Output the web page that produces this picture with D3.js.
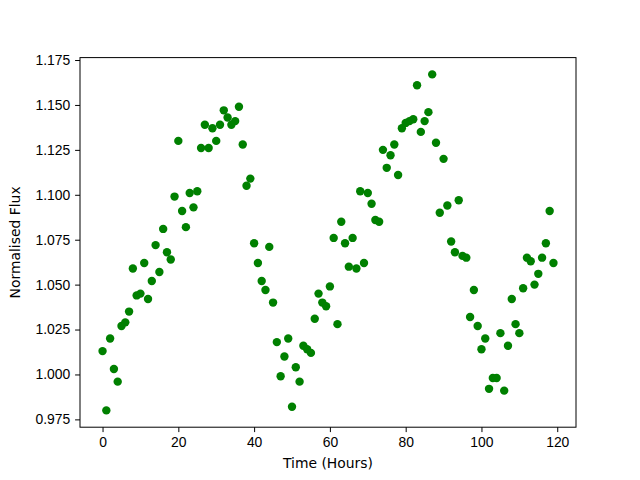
<!DOCTYPE html>
<html>
<head>
<meta charset="utf-8">
<script src="https://cdn.jsdelivr.net/npm/d3@7"></script>
<style>
  body { margin: 0; background: #fff; }
  svg { font-family: "DejaVu Sans", sans-serif; }
</style>
</head>
<body>
<div id="chart"></div>
<script>
// hours 0..119, one reading per hour
const hours = d3.range(0, 120);
const flux = [
  1.013, 0.980, 1.020, 1.003, 0.996, 1.027, 1.029, 1.035, 1.059, 1.044,
  1.045, 1.062, 1.042, 1.052, 1.072, 1.057, 1.081, 1.068, 1.064, 1.099,
  1.130, 1.091, 1.082, 1.101, 1.093, 1.102, 1.126, 1.139, 1.126, 1.137,
  1.130, 1.139, 1.147, 1.143, 1.139, 1.141, 1.149, 1.128, 1.105, 1.109,
  1.073, 1.062, 1.052, 1.047, 1.071, 1.040, 1.018, 0.999, 1.010, 1.020,
  0.982, 1.004, 0.996, 1.016, 1.014, 1.012, 1.031, 1.045, 1.040, 1.038,
  1.049, 1.076, 1.028, 1.085, 1.073, 1.060, 1.076, 1.059, 1.102, 1.062,
  1.101, 1.095, 1.086, 1.085, 1.125, 1.115, 1.122, 1.128, 1.111, 1.137,
  1.140, 1.141, 1.142, 1.161, 1.135, 1.141, 1.146, 1.167, 1.129, 1.090,
  1.120, 1.094, 1.074, 1.068, 1.097, 1.066, 1.065, 1.032, 1.047, 1.027,
  1.014, 1.020, 0.992, 0.998, 0.998, 1.023, 0.991, 1.016, 1.042, 1.028,
  1.023, 1.048, 1.065, 1.063, 1.050, 1.056, 1.065, 1.073, 1.091, 1.062
];
const xTicks = [0, 20, 40, 60, 80, 100, 120];
const yTicks = [0.975, 1.000, 1.025, 1.050, 1.075, 1.100, 1.125, 1.150, 1.175];

const W = 640, H = 480;
const margin = {top: 57.6, right: 64, bottom: 52.8, left: 80};
const w = W - margin.left - margin.right;
const h = H - margin.top - margin.bottom;

// matplotlib-style 5% padding
let xe = d3.extent(hours), ye = d3.extent(flux);
let xp = (xe[1] - xe[0]) * 0.05, yp = (ye[1] - ye[0]) * 0.05;

let x = d3.scaleLinear().domain([xe[0] - xp, xe[1] + xp]).range([0, w]);
let y = d3.scaleLinear().domain([ye[0] - yp, ye[1] + yp]).range([h, 0]);

let svg = d3.select("#chart").append("svg")
    .attr("width", W)
    .attr("height", H);

let g = svg.append("g")
    .attr("transform", `translate(${margin.left},${margin.top})`);

g.append("g")
    .selectAll("circle")
    .data(hours)
    .join("circle")
    .attr("cx", d => x(d))
    .attr("cy", (d, i) => y(flux[i]))
    .attr("r", 4.2)
    .attr("fill", "#008000");

let xAxis = g.append("g")
    .attr("transform", `translate(0,${h})`)
    .call(d3.axisBottom(x).tickValues(xTicks).tickSize(4.9).tickPadding(4.9).tickFormat(d3.format("d")));

let yAxis = g.append("g")
    .call(d3.axisLeft(y).tickValues(yTicks).tickSize(4.9).tickPadding(4.9).tickFormat(d3.format(".3f")));

[xAxis, yAxis].forEach(a => {
    a.select(".domain").remove();
    a.selectAll("text").style("font-size", "13.9px").attr("fill", "#000");
    a.selectAll("line").attr("stroke", "#000").attr("stroke-width", 1);
});

// frame
g.append("rect")
    .attr("width", w)
    .attr("height", h)
    .attr("fill", "none")
    .attr("stroke", "#000")
    .attr("stroke-width", 1);

svg.append("text")
    .attr("x", margin.left + w / 2)
    .attr("y", 468)
    .attr("text-anchor", "middle")
    .style("font-size", "13.9px")
    .text("Time (Hours)");

svg.append("text")
    .attr("transform", `translate(20,${margin.top + h / 2}) rotate(-90)`)
    .attr("text-anchor", "middle")
    .style("font-size", "13.9px")
    .text("Normalised Flux");
</script>
</body>
</html>
